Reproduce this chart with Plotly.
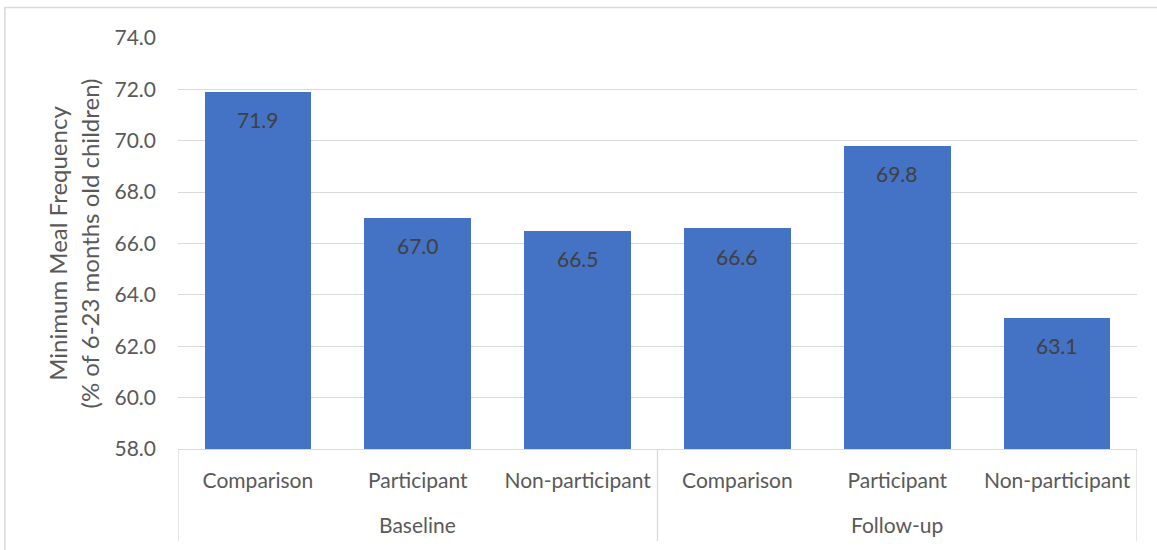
import plotly.graph_objects as go

# Minimum meal frequency by survey round and group
rounds = ["Baseline", "Follow-up"]
groups = ["Comparison", "Participant", "Non-participant"]
values = [71.9, 67.0, 66.5, 66.6, 69.8, 63.1]
y_ticks = [58, 60, 62, 64, 66, 68, 70, 72, 74]

FONT = "Lato, 'Open Sans', sans-serif"
GREY = "#595959"
LINE = "#d9d9d9"
BLUE = "#4472C4"
SIZE = 21

positions = list(range(len(values)))
tick_text = groups * len(rounds)

fig = go.Figure()
fig.add_trace(go.Bar(
    x=positions,
    y=values,
    width=0.667,
    marker=dict(color=BLUE, line=dict(width=0)),
    hoverinfo="skip",
))

# value labels just inside the top of each bar
for x, v in zip(positions, values):
    fig.add_annotation(
        x=x, y=v, xref="x", yref="y",
        text=f"{v:.1f}", showarrow=False,
        yanchor="middle", yshift=-28,
        font=dict(family=FONT, size=SIZE, color="#404040"),
    )

# round labels under the category labels
n = len(groups)
for i, r in enumerate(rounds):
    fig.add_annotation(
        x=i * n + (n - 1) / 2, y=-0.1825, xref="x", yref="paper",
        text=r, showarrow=False, yanchor="middle",
        font=dict(family=FONT, size=SIZE, color=GREY),
    )

# vertical dividers of the two-level category axis
for xb in [-0.5, n - 0.5, 2 * n - 0.5]:
    fig.add_shape(
        type="line", xref="x", yref="paper",
        x0=xb, x1=xb, y0=0, y1=-0.224,
        line=dict(color=LINE, width=1.3),
    )

# chart frame
fig.add_shape(
    type="rect", xref="paper", yref="paper",
    x0=-0.1805, x1=1.05, y0=-0.35, y1=1.074,
    line=dict(color=LINE, width=1.5),
)

fig.update_layout(
    width=1157, height=550,
    margin=dict(l=178, r=20, t=38, b=101),
    plot_bgcolor="white", paper_bgcolor="white",
    showlegend=False,
    bargap=0,
    font=dict(family=FONT, size=SIZE, color=GREY),
    xaxis=dict(
        range=[-0.5, len(values) - 0.5],
        tickvals=positions, ticktext=tick_text,
        showgrid=False, zeroline=False,
        showline=True, linecolor=LINE, linewidth=1.3,
        ticks="", ticklabelstandoff=13,
        tickfont=dict(family=FONT, size=SIZE, color=GREY),
    ),
    yaxis=dict(
        range=[58, 74], tickvals=y_ticks, tickformat=".1f",
        showgrid=True, gridcolor=LINE, gridwidth=1.3,
        zeroline=False, showline=False, ticks="",
        ticklabelstandoff=21,
        tickfont=dict(family=FONT, size=SIZE, color=GREY),
        title=dict(
            text="Minimum Meal Frequency<br>(% of 6-23 months old children)",
            font=dict(family=FONT, size=24, color=GREY),
            standoff=8,
        ),
    ),
)

fig.write_html("out.html")
